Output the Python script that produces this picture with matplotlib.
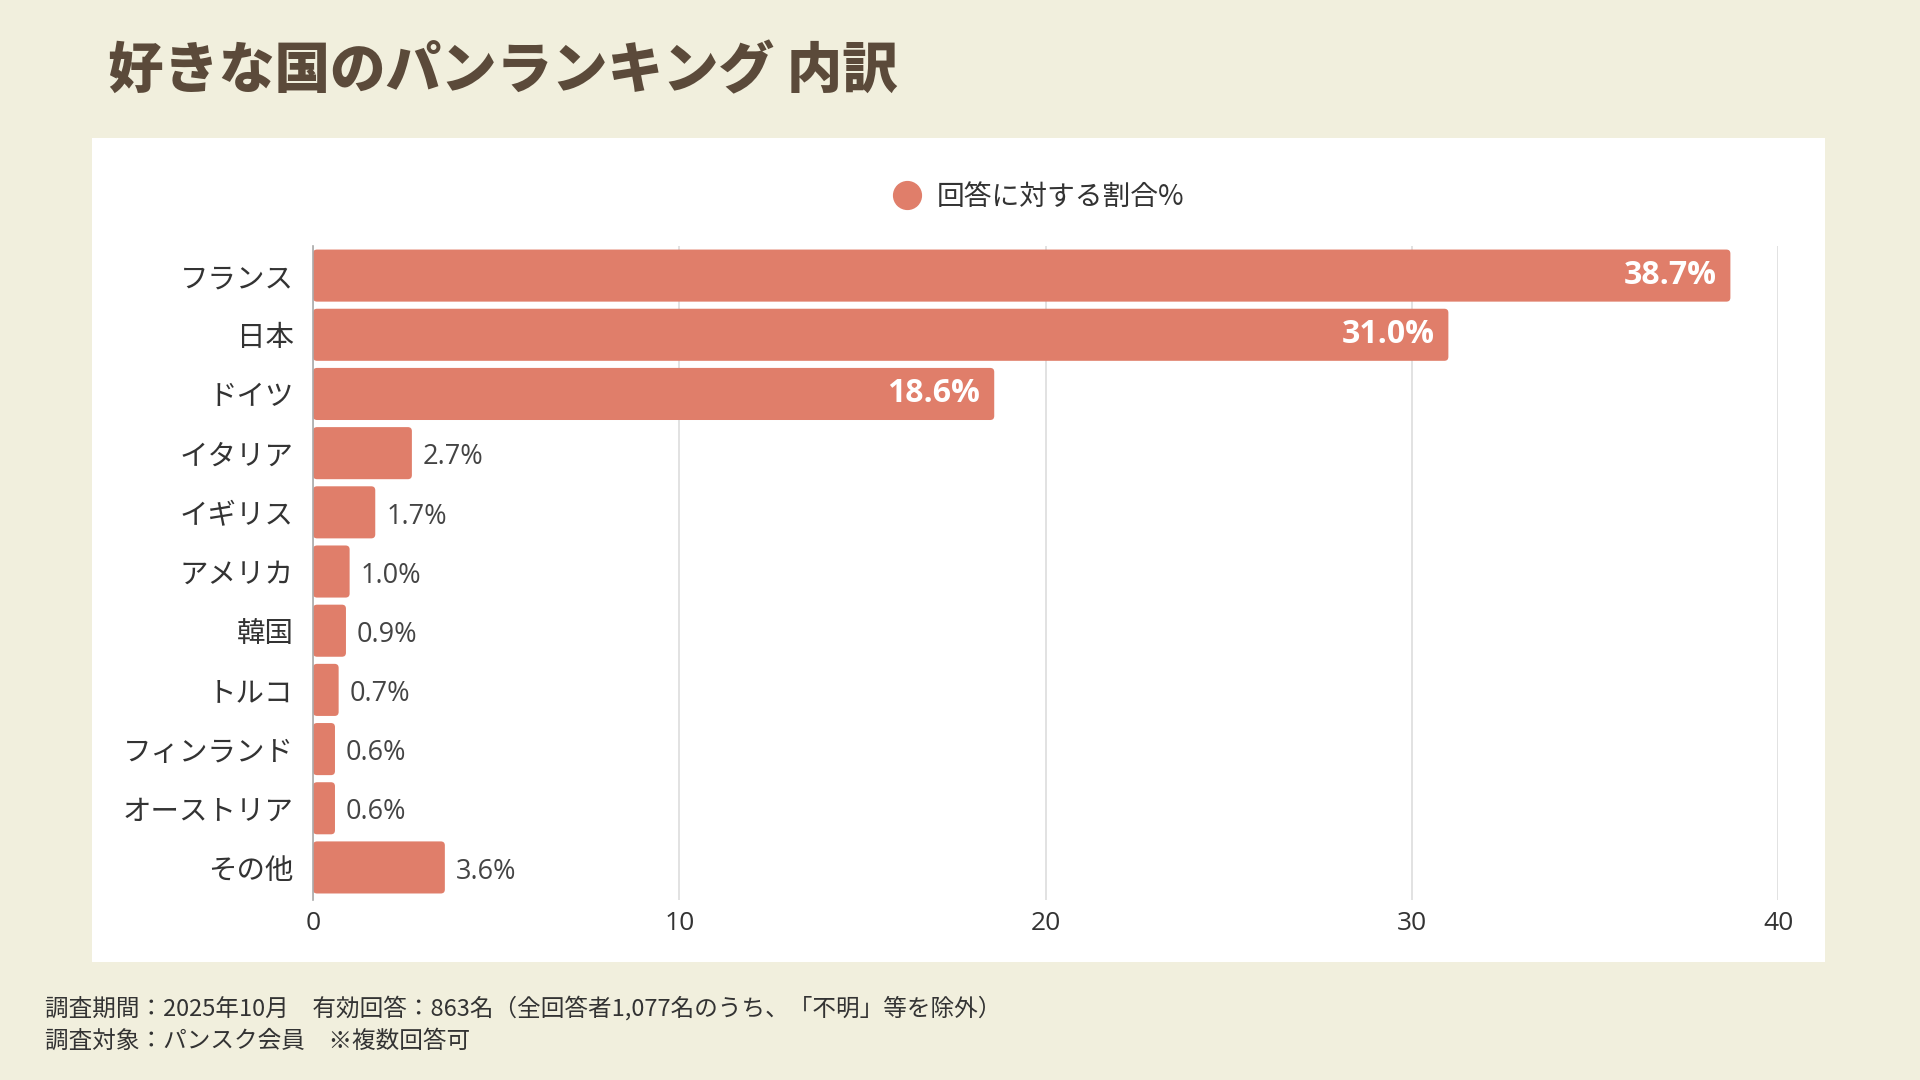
import matplotlib.pyplot as plt
from matplotlib.lines import Line2D
from matplotlib.patches import Rectangle, FancyBboxPatch

plt.rcParams['font.family'] = ['Open Sans', 'Noto Sans CJK JP', 'DejaVu Sans']

countries = ['フランス', '日本', 'ドイツ', 'イタリア', 'イギリス', 'アメリカ',
             '韓国', 'トルコ', 'フィンランド', 'オーストリア', 'その他']
share = [38.7, 31.0, 18.6, 2.7, 1.7, 1.0, 0.9, 0.7, 0.6, 0.6, 3.6]
xticks = [0, 10, 20, 30, 40]

bg = '#f1efdd'
bar_col = '#e07e6a'
title_col = '#5b4a3a'
text_col = '#333333'

fig = plt.figure(figsize=(19.2, 10.8), dpi=100, facecolor=bg)

# white panel
fig.patches.append(Rectangle((92 / 1920, 1 - 962 / 1080), (1825 - 92) / 1920, (962 - 138) / 1080,
                             transform=fig.transFigure, facecolor='white', edgecolor='none', zorder=-1))

fig.text(108 / 1920, 1 - 72 / 1080, '好きな国のパンランキング 内訳', fontsize=40,
         fontweight='heavy', color=title_col, va='center', ha='left',
         family=['Noto Sans CJK JP'])

ax = fig.add_axes([313 / 1920, 1 - 900 / 1080, (1778 - 313) / 1920, (900 - 246) / 1080])
ax.set_zorder(1)
ax.set_facecolor('none')

y = list(range(len(countries)))
bars = ax.barh(y, share, height=0.88, color=bar_col, zorder=2)
# swap plain rectangles for slightly rounded ones
for b in bars:
    x0, y0 = b.get_xy()
    w, h = b.get_width(), b.get_height()
    b.set_visible(False)
    ax.add_patch(FancyBboxPatch((x0, y0), w, h, boxstyle='round,pad=0,rounding_size=0.11',
                                mutation_aspect=0.615, facecolor=bar_col, edgecolor='none', zorder=2))

ax.set_ylim(len(countries) - 0.45, -0.5)
ax.set_xlim(0, 40)
ax.set_xticks(xticks)
ax.set_xticklabels([str(t) for t in xticks], fontsize=19, color=text_col)
ax.set_yticks(y)
ax.set_yticklabels(countries, fontsize=20.5, color=text_col, family=['Noto Sans CJK JP'])
ax.tick_params(axis='both', length=0)
ax.tick_params(axis='x', pad=8)
ax.tick_params(axis='y', pad=14)
ax.grid(axis='x', color='#dddddd', linewidth=1.2, zorder=0)
for s in ['top', 'right', 'bottom']:
    ax.spines[s].set_visible(False)
ax.spines['left'].set_color('#aaaaaa')
ax.spines['left'].set_linewidth(1.2)

for yi, v in zip(y, share):
    if v > 10:
        ax.annotate(f'{v:.1f}%', (v, yi), xytext=(-10, 0), textcoords='offset points',
                    ha='right', va='center', fontsize=23, fontweight='bold', color='white', zorder=3)
    else:
        ax.annotate(f'{v:.1f}%', (v, yi), xytext=(8, -3), textcoords='offset points',
                    ha='left', va='center', fontsize=19.5, color='#444444', zorder=3)

handle = Line2D([], [], marker='o', color=bar_col, linestyle='', markersize=20)
fig.legend([handle], ['回答に対する割合%'], loc='center', bbox_to_anchor=(1032 / 1920, 1 - 197 / 1080),
           frameon=False, prop={'family': ['Noto Sans CJK JP'], 'size': 20},
           handletextpad=0.05, labelcolor=text_col)

fig.text(45 / 1920, 1 - 1008 / 1080, '調査期間：2025年10月　有効回答：863名（全回答者1,077名のうち、「不明」等を除外）',
         fontsize=17, color=text_col, va='center', ha='left', family=['Noto Sans CJK JP'])
fig.text(45 / 1920, 1 - 1041 / 1080, '調査対象：パンスク会員　※複数回答可',
         fontsize=17, color=text_col, va='center', ha='left', family=['Noto Sans CJK JP'])

fig.savefig('out.png', dpi=100, facecolor=bg)
